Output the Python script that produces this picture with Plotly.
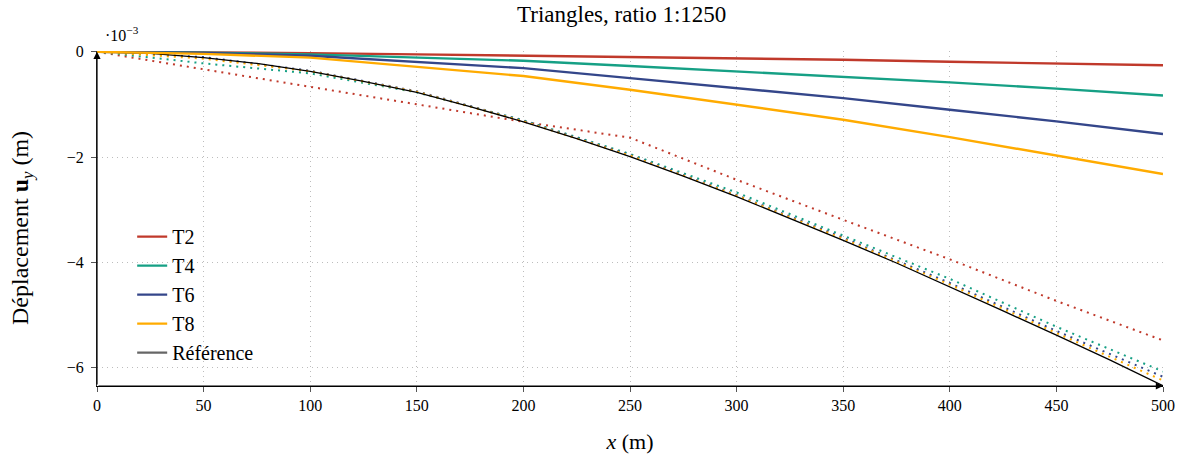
import plotly.graph_objects as go

# x positions (m)
x = [0, 50, 100, 150, 200, 250, 300, 350, 400, 450, 500]

# solid series (×1e-3 m)
t2 = [0, -0.01, -0.025, -0.05, -0.075, -0.10, -0.12, -0.15, -0.19, -0.225, -0.255]
t4 = [0, -0.015, -0.05, -0.11, -0.17, -0.27, -0.37, -0.47, -0.58, -0.70, -0.83]
t6 = [0, -0.02, -0.075, -0.19, -0.31, -0.50, -0.69, -0.88, -1.10, -1.32, -1.56]
t8 = [0, -0.04, -0.11, -0.29, -0.46, -0.72, -1.00, -1.29, -1.62, -1.97, -2.32]

# dotted series (×1e-3 m)
t2d = [0, -0.33, -0.67, -1.00, -1.33, -1.63, -2.43, -3.19, -3.94, -4.73, -5.48]
t4d = [0, -0.22, -0.41, -0.77, -1.30, -1.94, -2.67, -3.49, -4.31, -5.22, -6.07]
t6d = [0, -0.10, -0.36, -0.75, -1.31, -1.96, -2.72, -3.53, -4.39, -5.30, -6.17]
t8d = [0, -0.13, -0.37, -0.76, -1.32, -1.97, -2.73, -3.55, -4.42, -5.34, -6.24]

# reference (×1e-3 m)
x_ref = [0, 25, 50, 75, 100, 125, 150, 175, 200, 225, 250, 275, 300, 325, 350, 375, 400, 425, 450, 475, 500]
ref = [0, -0.03, -0.11, -0.22, -0.37, -0.56, -0.77, -1.04, -1.33, -1.65, -1.99, -2.36, -2.75, -3.16,
       -3.58, -4.01, -4.46, -4.92, -5.38, -5.85, -6.34]

names = ["T2", "T4", "T6", "T8"]
colors = ["#c0392b", "#16a085", "#34468a", "#ffab00"]
solid = [t2, t4, t6, t8]
dotted = [t2d, t4d, t6d, t8d]

xticks = [0, 50, 100, 150, 200, 250, 300, 350, 400, 450, 500]
yticks = [0, -2, -4, -6]
yticktext = ["0", "−2", "−4", "−6"]

FONT = "Liberation Serif"

fig = go.Figure()

for ys, c in zip(dotted, colors):
    fig.add_trace(go.Scatter(x=x, y=ys, mode="lines", showlegend=False,
                             line=dict(color=c, width=2, dash="2px,5px")))

fig.add_trace(go.Scatter(x=x_ref, y=ref, mode="lines", showlegend=False,
                         line=dict(color="black", width=1.3)))

for ys, c, n in zip(solid, colors, names):
    fig.add_trace(go.Scatter(x=x, y=ys, mode="lines", name=n,
                             line=dict(color=c, width=2.4)))

# legend entry for the reference
fig.add_trace(go.Scatter(x=[None], y=[None], mode="lines", name="Référence",
                         line=dict(color="#666666", width=2.4)))

ymin, ymax = -6.345, 0.015

fig.update_layout(
    width=1191, height=463,
    margin=dict(l=97, r=28, t=51, b=77),
    plot_bgcolor="white", paper_bgcolor="white",
    font=dict(family=FONT, color="black", size=16),
    legend=dict(x=0.033, y=0.504, xanchor="left", yanchor="top",
                bgcolor="rgba(255,255,255,0)", font=dict(size=20, family=FONT),
                tracegroupgap=0),
    showlegend=True,
)

fig.update_xaxes(
    range=[0, 500], tickvals=xticks, ticks="outside", ticklen=5, tickcolor="#555",
    showline=True, linecolor="black", linewidth=1.2, mirror=False, automargin=False,
    showgrid=True, gridcolor="#bdbdbd", griddash="1px,4px", gridwidth=1, zeroline=False,
    tickfont=dict(size=16, family=FONT),
    title=dict(text="<i>x</i> (m)", font=dict(size=22, family=FONT), standoff=20),
)
fig.update_yaxes(
    range=[ymin, ymax], tickvals=yticks, ticktext=yticktext, ticks="outside", ticklen=5,
    tickcolor="#555", showline=True, linecolor="#333", linewidth=1.2, automargin=False,
    ticklabelstandoff=4,
    showgrid=True, gridcolor="#bdbdbd", griddash="1px,4px", gridwidth=1, zeroline=False,
    tickfont=dict(size=16, family=FONT),
)

# y-axis title (placed slightly below the plot centre, as in the reference)
fig.add_annotation(x=-0.0704, y=0.4716, xref="paper", yref="paper", xanchor="center",
                   yanchor="middle", textangle=-90, showarrow=False,
                   text="Déplacement <b>u</b><sub><i>y</i></sub> (m)",
                   font=dict(size=24, family=FONT))

# axis arrows
fig.add_annotation(x=0, y=0, ax=0, ay=ymin, xref="x", yref="y", axref="x", ayref="y",
                   text="", showarrow=True, arrowhead=2, arrowsize=1.2, arrowwidth=1.2,
                   arrowcolor="black")
fig.add_annotation(x=500, y=ymin, ax=0, ay=ymin, xref="x", yref="y", axref="x", ayref="y",
                   text="", showarrow=True, arrowhead=2, arrowsize=1.2, arrowwidth=1.2,
                   arrowcolor="black")

# exponent label
fig.add_annotation(x=0.006, y=1, xref="paper", yref="paper", xanchor="left", yanchor="bottom",
                   yshift=5, text="·10<sup>−3</sup>", showarrow=False,
                   font=dict(size=16, family=FONT))

# title
fig.add_annotation(x=0.4916, y=1, xref="paper", yref="paper", xanchor="center", yanchor="middle",
                   yshift=37, text="Triangles, ratio 1:1250", showarrow=False,
                   font=dict(size=23, family=FONT))

fig.write_html("out.html", config={"displayModeBar": False},
               post_script="document.body.style.margin='0';")
